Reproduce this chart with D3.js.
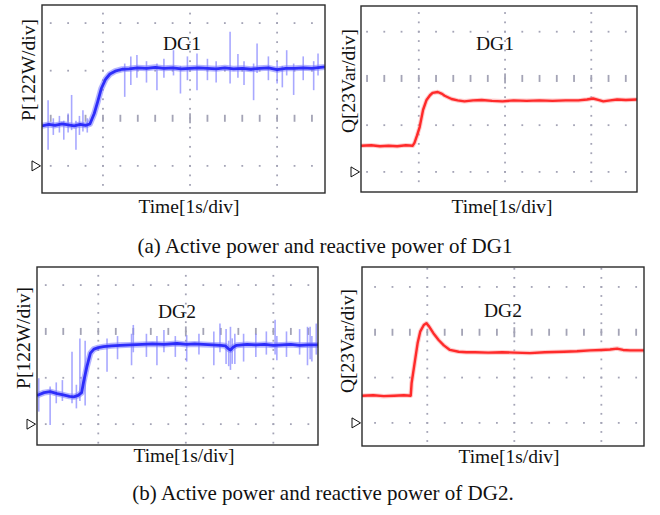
<!DOCTYPE html>
<html>
<head>
<meta charset="utf-8">
<script src="https://cdn.jsdelivr.net/npm/d3@7"></script>
<style>
  body { margin: 0; background: #fff; }
  text { font-family: "Liberation Serif", "Times New Roman", serif; fill: #111; }
</style>
</head>
<body>
<svg id="chart" width="660" height="515"></svg>
<script>
// scope traces, time in s (1 s/div), value in divisions above the ground marker
var p1Trace = [[-0.70,0.84],[-0.62,0.87],[-0.55,0.85],[-0.47,0.88],[-0.40,0.86],[-0.33,0.84],[-0.26,0.87],[-0.20,0.85],[-0.15,0.88],
  [-0.10,1.10],[-0.06,1.35],[-0.02,1.62],[0.03,1.82],[0.08,1.93],[0.14,1.99],[0.22,2.03],[0.30,2.04],[0.40,2.06],[0.50,2.05],
  [0.60,2.07],[0.70,2.05],[0.80,2.06],[0.90,2.04],[1.00,2.05],[1.10,2.06],[1.20,2.05],[1.30,2.04],[1.40,2.06],[1.50,2.04],
  [1.60,2.05],[1.70,2.03],[1.80,2.05],[1.90,2.06],[2.00,2.02],[2.06,2.04],[2.10,2.05],[2.20,2.05],[2.30,2.06],[2.40,2.05],[2.55,2.08]];
// noise spikes: [t, low, high]
var p1Spikes = [[-0.63,0.34,1.38],[-0.57,0.65,1.00],[-0.50,0.70,1.05],[-0.45,0.55,0.95],[-0.40,0.70,1.10],[-0.36,0.75,1.49],
  [-0.31,0.34,0.95],[-0.27,0.65,1.05],[-0.23,0.72,1.17],[-0.18,0.70,1.00],
  [0.25,1.45,2.15],[0.32,1.70,2.30],[0.39,1.85,2.33],[0.50,1.75,2.20],[0.62,1.59,2.15],[0.70,1.85,2.25],[0.81,1.90,2.43],
  [0.89,1.52,2.10],[0.97,1.80,2.30],[1.08,1.59,2.36],[1.20,1.80,2.25],[1.30,1.75,2.20],[1.46,1.73,2.82],[1.55,1.85,2.35],
  [1.62,1.70,2.20],[1.73,1.38,2.15],[1.77,1.95,2.57],[1.90,1.80,2.30],[2.00,1.73,2.20],[2.06,1.65,2.10],[2.11,1.90,2.43],
  [2.19,1.49,2.15],[2.30,1.80,2.30],[2.42,1.59,2.20],[2.47,1.90,2.36]];

var q1Trace = [[-0.67,0.56],[-0.55,0.57],[-0.45,0.55],[-0.35,0.56],[-0.25,0.55],[-0.15,0.57],[-0.07,0.56],[-0.05,0.62],
  [-0.02,0.78],[0.01,0.96],[0.05,1.33],[0.09,1.54],[0.13,1.64],[0.16,1.69],[0.22,1.71],[0.27,1.67],[0.30,1.63],[0.38,1.56],
  [0.45,1.53],[0.53,1.51],[0.63,1.53],[0.73,1.54],[0.85,1.52],[0.97,1.51],[1.10,1.53],[1.25,1.52],[1.40,1.53],[1.55,1.52],
  [1.70,1.53],[1.85,1.53],[1.95,1.55],[2.02,1.57],[2.08,1.54],[2.14,1.51],[2.22,1.53],[2.30,1.55],[2.40,1.54],[2.53,1.55]];

var p2Trace = [[-0.70,0.62],[-0.62,0.68],[-0.55,0.70],[-0.47,0.66],[-0.40,0.63],[-0.33,0.60],[-0.28,0.59],[-0.23,0.62],
  [-0.19,0.68],[-0.17,0.89],[-0.13,1.24],[-0.09,1.53],[-0.05,1.62],[0.00,1.65],[0.06,1.67],[0.15,1.69],[0.25,1.70],[0.37,1.71],
  [0.50,1.72],[0.62,1.73],[0.75,1.72],[0.90,1.74],[1.01,1.72],[1.10,1.73],[1.20,1.72],[1.30,1.71],[1.40,1.70],[1.45,1.69],
  [1.49,1.62],[1.51,1.60],[1.54,1.66],[1.58,1.70],[1.70,1.72],[1.80,1.71],[1.90,1.72],[2.00,1.70],[2.10,1.71],[2.20,1.72],
  [2.30,1.70],[2.40,1.71],[2.51,1.71]];
var p2Spikes = [[-0.68,0.27,0.99],[-0.55,-0.02,0.81],[-0.48,0.45,0.90],[-0.41,0.50,0.95],[-0.30,0.45,1.56],[-0.25,0.34,0.85],
  [-0.21,0.50,1.85],[-0.15,0.40,1.80],[0.10,1.13,1.85],[0.22,1.40,1.90],[0.38,1.27,1.95],[0.40,1.55,2.14],[0.55,1.45,1.95],
  [0.67,1.27,1.90],[0.75,1.55,2.03],[0.88,1.45,1.90],[1.01,1.35,1.92],[1.15,1.50,1.95],[1.32,1.27,2.00],[1.39,1.55,2.17],
  [1.46,1.30,2.05],[1.49,1.25,1.80],[1.51,1.17,2.10],[1.53,1.30,1.85],[1.56,1.30,1.95],[1.66,1.35,1.95],[1.80,1.45,1.95],
  [1.92,1.50,2.00],[2.02,1.50,2.25],[2.04,1.38,1.90],[2.15,1.45,2.00],[2.30,1.50,2.05],[2.39,1.27,2.10],[2.42,1.40,2.10],
  [2.44,1.35,1.90],[2.49,1.50,2.17]];

var q2Trace = [[-0.75,0.60],[-0.62,0.61],[-0.50,0.59],[-0.38,0.60],[-0.27,0.61],[-0.19,0.60],[-0.18,0.88],[-0.14,1.39],
  [-0.11,1.77],[-0.08,2.02],[-0.04,2.16],[-0.01,2.20],[0.02,2.13],[0.07,1.98],[0.13,1.83],[0.19,1.71],[0.26,1.61],[0.36,1.57],
  [0.45,1.56],[0.55,1.56],[0.70,1.55],[0.86,1.56],[1.00,1.55],[1.18,1.54],[1.35,1.56],[1.57,1.57],[1.72,1.58],[1.87,1.60],
  [2.00,1.61],[2.10,1.62],[2.18,1.64],[2.25,1.61],[2.33,1.60],[2.49,1.60]];

var yLabels = ['P[122W/div]', 'Q[23Var/div]', 'P[122W/div]', 'Q[23Var/div]'];
var panelTitles = ['DG1', 'DG1', 'DG2', 'DG2'];
var xLabel = 'Time[1s/div]';
var captions = ['(a) Active power and reactive power of DG1', '(b) Active power and reactive power of DG2.'];

var svg = d3.select('#chart');

class ScopePanel {
    constructor(_config, _trace, _spikes) {
        this.config = _config;
        this.trace = _trace;
        this.spikes = _spikes || [];
        this.initVis();
    }

    initVis() {
        let vis = this;
        let c = vis.config;

        vis.xScale = d3.scaleLinear().domain(c.tDomain).range([0, c.width]);
        vis.yScale = d3.scaleLinear().domain(c.vDomain).range([c.height, 0]);

        vis.chart = svg.append('g')
            .attr('transform', `translate(${c.left},${c.top})`);

        vis.chart.append('clipPath').attr('id', `clip-${c.id}`)
            .append('rect').attr('width', c.width).attr('height', c.height);

        vis.grid = vis.chart.append('g').attr('fill', '#a4a4b6');
        vis.plot = vis.chart.append('g').attr('clip-path', `url(#clip-${c.id})`);

        vis.renderVis();
    }

    renderVis() {
        let vis = this;
        let c = vis.config;
        let x = vis.xScale, y = vis.yScale;

        let rows = d3.range(0, 4).filter(v => v >= c.vDomain[0] && v <= c.vDomain[1]);
        let cols = [0, 1, 2];
        let tSteps = d3.range(Math.ceil(c.tDomain[0] * 5), Math.floor(c.tDomain[1] * 5) + 1).map(d => d / 5);
        let vSteps = d3.range(Math.ceil(c.vDomain[0] * 5), Math.floor(c.vDomain[1] * 5) + 1).map(d => d / 5);

        // dotted rows (center row gets tick dashes)
        rows.forEach(r => {
            let isCenter = r === c.centerRow;
            vis.grid.selectAll(null)
                .data(tSteps.filter(t => t > c.tDomain[0] + 0.05 && t < c.tDomain[1] - 0.05))
                .join('rect')
                .attr('x', t => x(t) - 0.9)
                .attr('y', t => y(r) - (isCenter ? (Math.abs(t - 1) < 1e-6 ? 5 : 3.5) : 0.9))
                .attr('width', 1.8)
                .attr('height', t => isCenter ? (Math.abs(t - 1) < 1e-6 ? 10 : 7) : 1.8);
        });

        // dotted vertical lines
        cols.forEach(t => {
            vis.grid.selectAll(null)
                .data(vSteps.filter(v => v > c.vDomain[0] + 0.03 && v < c.vDomain[1] - 0.03))
                .join('rect')
                .attr('x', x(t) - 0.9)
                .attr('y', v => y(v) - 0.9)
                .attr('width', 1.8)
                .attr('height', 1.8);
        });

        let line = d3.line().x(d => x(d[0])).y(d => y(d[1]));

        // noise spikes
        vis.plot.selectAll('.spike')
            .data(vis.spikes)
            .join('line')
            .attr('class', 'spike')
            .attr('x1', d => x(d[0])).attr('x2', d => x(d[0]))
            .attr('y1', d => y(d[1])).attr('y2', d => y(d[2]))
            .attr('stroke', c.spikeColor)
            .attr('stroke-width', 1.6)
            .attr('opacity', 0.75);

        vis.plot.append('path')
            .datum(vis.trace)
            .attr('d', line)
            .attr('fill', 'none')
            .attr('stroke', c.haloColor)
            .attr('stroke-width', c.haloWidth)
            .attr('stroke-linejoin', 'round')
            .attr('opacity', 0.55);

        vis.plot.append('path')
            .datum(vis.trace)
            .attr('d', line)
            .attr('fill', 'none')
            .attr('stroke', c.color)
            .attr('stroke-width', c.lineWidth)
            .attr('stroke-linejoin', 'round');

        // frame
        vis.chart.append('rect')
            .attr('width', c.width).attr('height', c.height)
            .attr('fill', 'none').attr('stroke', '#2a2a2a').attr('stroke-width', 1.4);

        // ground marker
        let g0 = y(0);
        vis.chart.append('path')
            .attr('d', `M-10,${g0 - 5}L-10,${g0 + 5}L-1.5,${g0}Z`)
            .attr('fill', '#fff').attr('stroke', '#111').attr('stroke-width', 1);

        // texts
        vis.chart.append('text')
            .attr('transform', `translate(${c.yLabelX - c.left},${c.yLabelY - c.top})rotate(-90)`)
            .attr('text-anchor', 'middle')
            .attr('font-size', 19.5)
            .text(c.ylabel);

        vis.chart.append('text')
            .attr('x', c.titleX - c.left).attr('y', c.titleY - c.top)
            .attr('text-anchor', 'middle')
            .attr('font-size', 19.5)
            .text(c.title);

        svg.append('text')
            .attr('x', c.xLabelX).attr('y', c.xLabelY)
            .attr('text-anchor', 'middle')
            .attr('font-size', 19.5)
            .text(xLabel);
    }
}

var blue = {color: '#2d2dfa', haloColor: '#7878ff', spikeColor: '#8c8cff', lineWidth: 2.8, haloWidth: 6};
var red = {color: '#ff2a2a', haloColor: '#ffa0a0', spikeColor: '#ffa0a0', lineWidth: 2.4, haloWidth: 4.5};

new ScopePanel(Object.assign({id: 'p1', left: 42, top: 5, width: 283, height: 188,
    tDomain: [-0.70, 2.55], vDomain: [-0.57, 3.38], centerRow: 1,
    ylabel: yLabels[0], title: panelTitles[0], yLabelX: 35, yLabelY: 70, titleX: 182, titleY: 50,
    xLabelX: 189, xLabelY: 213}, blue), p1Trace, p1Spikes);

new ScopePanel(Object.assign({id: 'q1', left: 361, top: 6, width: 276, height: 186,
    tDomain: [-0.67, 2.53], vDomain: [-0.43, 3.55], centerRow: 2,
    ylabel: yLabels[1], title: panelTitles[1], yLabelX: 355, yLabelY: 81, titleX: 495, titleY: 50,
    xLabelX: 502, xLabelY: 213}, red), q1Trace, []);

new ScopePanel(Object.assign({id: 'p2', left: 37, top: 267, width: 281, height: 178,
    tDomain: [-0.70, 2.51], vDomain: [-0.45, 3.39], centerRow: 2,
    ylabel: yLabels[2], title: panelTitles[2], yLabelX: 30, yLabelY: 338, titleX: 177, titleY: 318,
    xLabelX: 184, xLabelY: 462}, blue), p2Trace, p2Spikes);

new ScopePanel(Object.assign({id: 'q2', left: 362, top: 267, width: 282, height: 179,
    tDomain: [-0.75, 2.49], vDomain: [-0.51, 3.44], centerRow: 2,
    ylabel: yLabels[3], title: panelTitles[3], yLabelX: 354, yLabelY: 341, titleX: 503, titleY: 317,
    xLabelX: 509, xLabelY: 463}, red), q2Trace, []);

svg.selectAll('.caption')
    .data(captions)
    .join('text')
    .attr('class', 'caption')
    .attr('x', (d, i) => i === 0 ? 325 : 323)
    .attr('y', (d, i) => i === 0 ? 253 : 500)
    .attr('text-anchor', 'middle')
    .attr('font-size', 21)
    .text(d => d);
</script>
</body>
</html>
